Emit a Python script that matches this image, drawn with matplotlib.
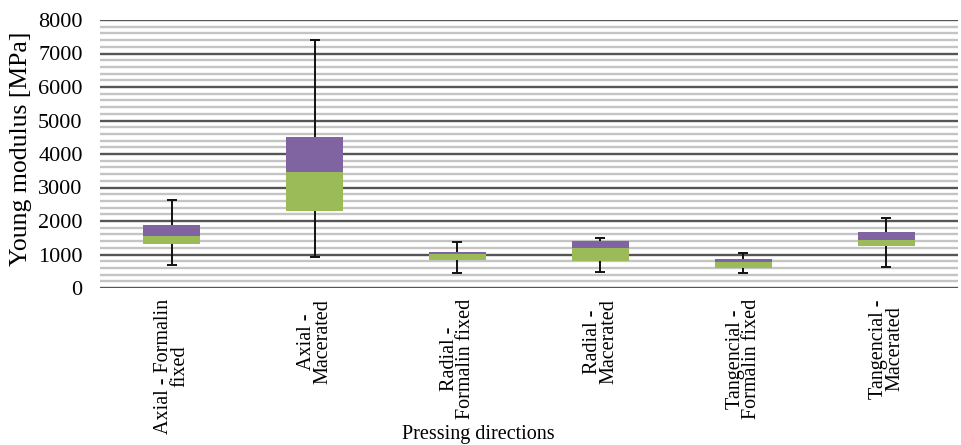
import matplotlib.pyplot as plt
from matplotlib.ticker import MultipleLocator

# Young modulus per pressing direction (box: Q1-median-Q3, whiskers: min/max)
categories = ["Axial - Formalin\nfixed", "Axial -\nMacerated",
              "Radial -\nFormalin fixed", "Radial -\nMacerated",
              "Tangencial -\nFormalin fixed", "Tangencial -\nMacerated"]
y_min = [700, 940, 460, 480, 460, 630]
q1 = [1310, 2310, 850, 820, 610, 1240]
median = [1560, 3450, 1000, 1190, 790, 1440]
q3 = [1890, 4510, 1070, 1395, 880, 1665]
y_max = [2615, 7400, 1375, 1485, 1055, 2095]

green = '#9bbb59'
purple = '#8064a2'

plt.rcParams['font.family'] = ['Liberation Serif', 'DejaVu Serif']

fig = plt.figure(figsize=(9.62, 4.45), dpi=100)
ax = fig.add_axes([100/962, 1 - 288/445, 858/962, 268/445])

x = range(len(categories))
lower = [m - a for m, a in zip(median, q1)]
upper = [b - m for m, b in zip(median, q3)]
err_lo = [m - a for m, a in zip(median, y_min)]
err_hi = [b - m for m, b in zip(median, y_max)]

# whiskers behind, the box bars cover the middle part
ax.errorbar(x, median, yerr=[err_lo, err_hi], fmt='none', ecolor='#111111',
            elinewidth=1.4, capsize=3.8, capthick=1.4, zorder=3)
ax.bar(x, lower, bottom=q1, width=0.4, color=green, zorder=4)
ax.bar(x, upper, bottom=median, width=0.4, color=purple, zorder=4)

ax.set_xlim(-0.5, len(categories) - 0.5)
ax.set_ylim(0, 8000)
ax.yaxis.set_major_locator(MultipleLocator(1000))
ax.yaxis.set_minor_locator(MultipleLocator(200))
ax.grid(which='minor', axis='y', color='#c4c4c4', lw=1.7, zorder=1)
ax.grid(which='major', axis='y', color='#555555', lw=1.7, zorder=2)
ax.set_axisbelow(True)
for s in ax.spines.values():
    s.set_visible(False)
ax.tick_params(axis='both', which='both', length=0)
ax.tick_params(axis='y', labelsize=16, pad=12.5)

ax.set_xticks(list(x))
ax.set_xticklabels(categories, rotation=90, fontsize=14.5, linespacing=0.85)
ax.tick_params(axis='x', pad=8)

fig.text(21/962, 1 - 149/445, "Young modulus [MPa]", fontsize=18.5,
         rotation=90, ha='center', va='center')
fig.text(478/962, 1 - 434/445, "Pressing directions", fontsize=14.5,
         ha='center', va='center')

fig.savefig('out.png', dpi=100)
